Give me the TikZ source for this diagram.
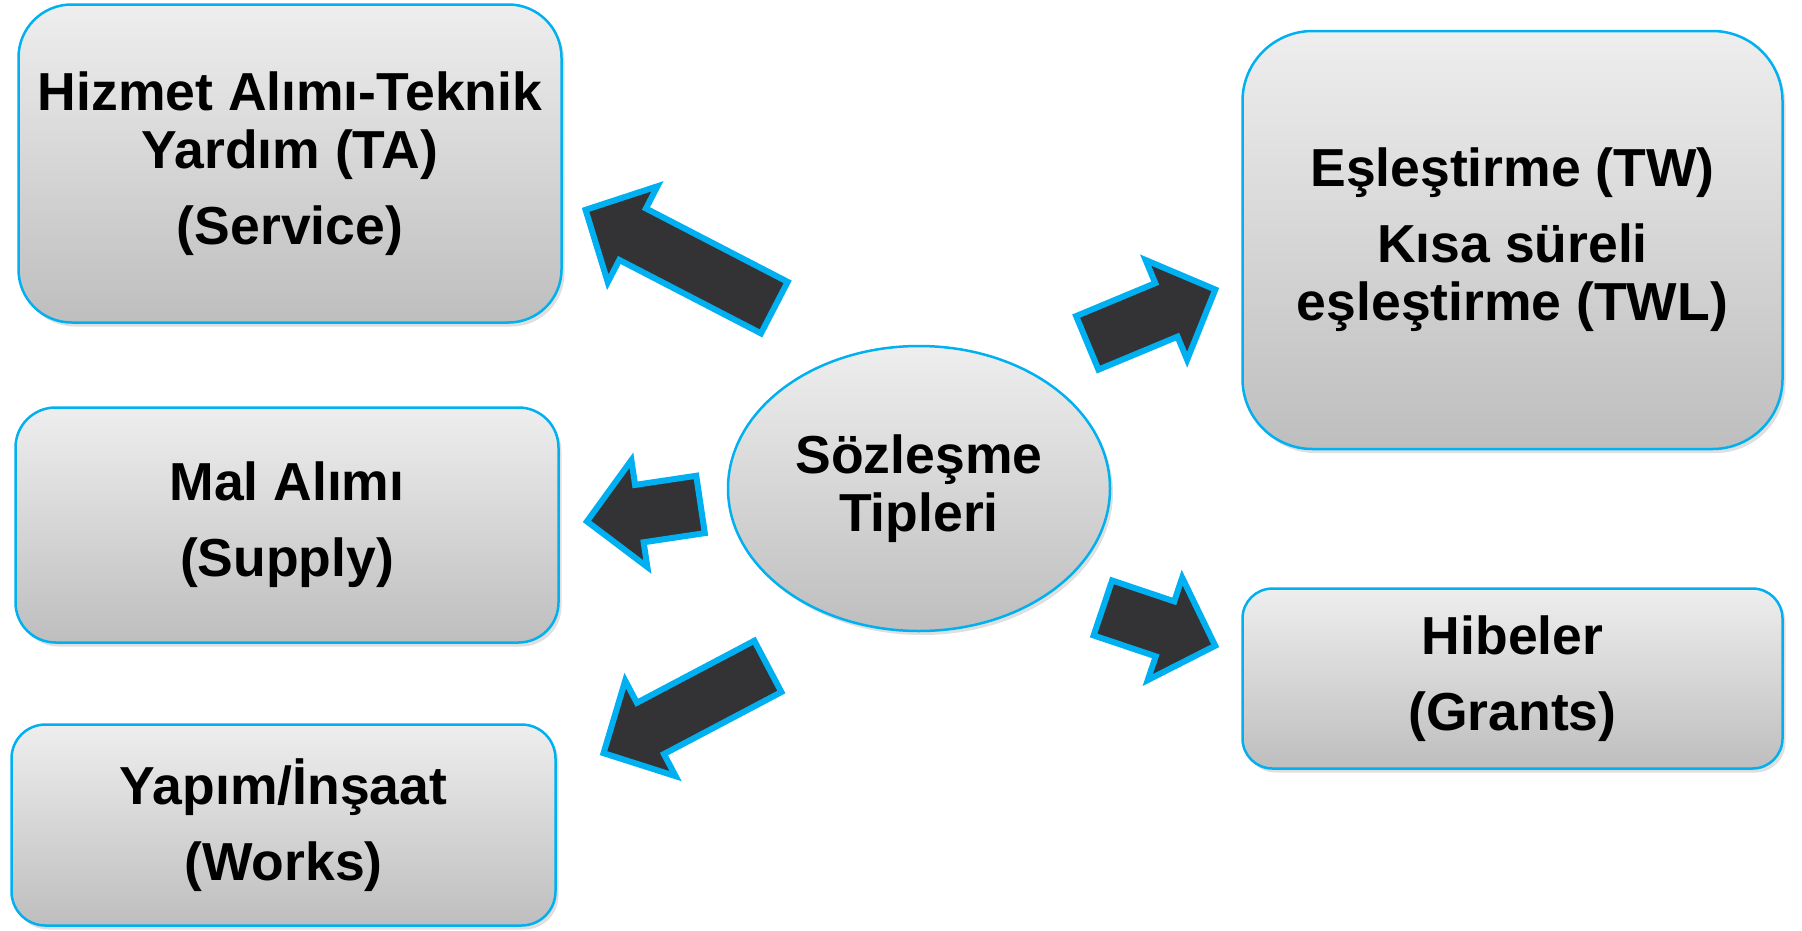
\documentclass[tikz,border=0pt]{standalone}
\usepackage{fontspec}
\setmainfont{Liberation Sans}
\usetikzlibrary{shapes.geometric,shadows,calc}
\definecolor{cyanline}{RGB}{0,176,240}
\definecolor{arrfill}{RGB}{51,51,54}
\definecolor{gtop}{RGB}{238,238,238}
\definecolor{gbot}{RGB}{190,190,190}
\tikzset{
  txt/.style={align=center, font=\fontsize{53.5}{58}\selectfont\bfseries, inner sep=0pt},
  box/.style={txt, draw=cyanline, line width=2.5pt, top color=gtop, bottom color=gbot,
    drop shadow={shadow xshift=3pt, shadow yshift=-4pt, opacity=0.25}},
  ell/.style={box, ellipse},
  blk/.style={draw=cyanline, fill=arrfill, line width=6pt, line join=miter}
}
\newcommand\blkarrow[2]{%
  \coordinate (bT) at ($(#1)!3pt!(#2)$);
  \coordinate (bP) at ($(#2)!4pt!(#1)$);
  \coordinate (bH) at ($(bP)!53pt!(bT)$);
  \draw[blk] ($(bT)!29pt!90:(bP)$) -- ($(bH)!29pt!90:(bP)$) -- ($(bH)!54pt!90:(bP)$)
    -- (bP) -- ($(bH)!54pt!-90:(bP)$) -- ($(bH)!29pt!-90:(bP)$) -- ($(bT)!29pt!-90:(bP)$) -- cycle;
}
\begin{document}
\begin{tikzpicture}[x=1pt,y=-1pt]
\useasboundingbox (0,0) rectangle (1802,930);
% boxes
\node[box, minimum width=543pt, minimum height=318pt, rounded corners=53pt] (ta) at (290,163.5)
  {\raisebox{0pt}[\height][\depth]{}Hizmet Alımı-Teknik\\Yardım (TA)\\[18pt](Service)};
\node[box, minimum width=543pt, minimum height=235pt, rounded corners=40pt] (mal) at (287,525)
  {Mal Alımı\\[18pt](Supply)};
\node[box, minimum width=544pt, minimum height=201pt, rounded corners=34pt] (yap) at (283.5,825)
  {Yapım/İnşaat\\[18pt](Works)};
\node[box, minimum width=540pt, minimum height=418pt, rounded corners=70pt] (tw) at (1512.5,240)
  {Eşleştirme (TW)\\[18pt]Kısa süreli\\eşleştirme (TWL)};
\node[box, minimum width=540pt, minimum height=180pt, rounded corners=30pt] (hib) at (1512.5,678.5)
  {Hibeler\\[18pt](Grants)};
\node[ell, minimum width=382pt, minimum height=285pt] (ctr) at (919,488.5) {Sözleşme\\Tipleri};
% arrows
\coordinate (taT) at (777,309);   \coordinate (taP) at (582,208);
\coordinate (malT) at (703.5,504); \coordinate (malP) at (583,522);
\coordinate (yapT) at (770.5,665); \coordinate (yapP) at (600,755);
\coordinate (twT) at (1084.5,344); \coordinate (twP) at (1219,288);
\coordinate (hibT) at (1100,607);  \coordinate (hibP) at (1219,647);
\blkarrow{taT}{taP}
\blkarrow{malT}{malP}
\blkarrow{yapT}{yapP}
\blkarrow{twT}{twP}
\blkarrow{hibT}{hibP}
\end{tikzpicture}
\end{document}
